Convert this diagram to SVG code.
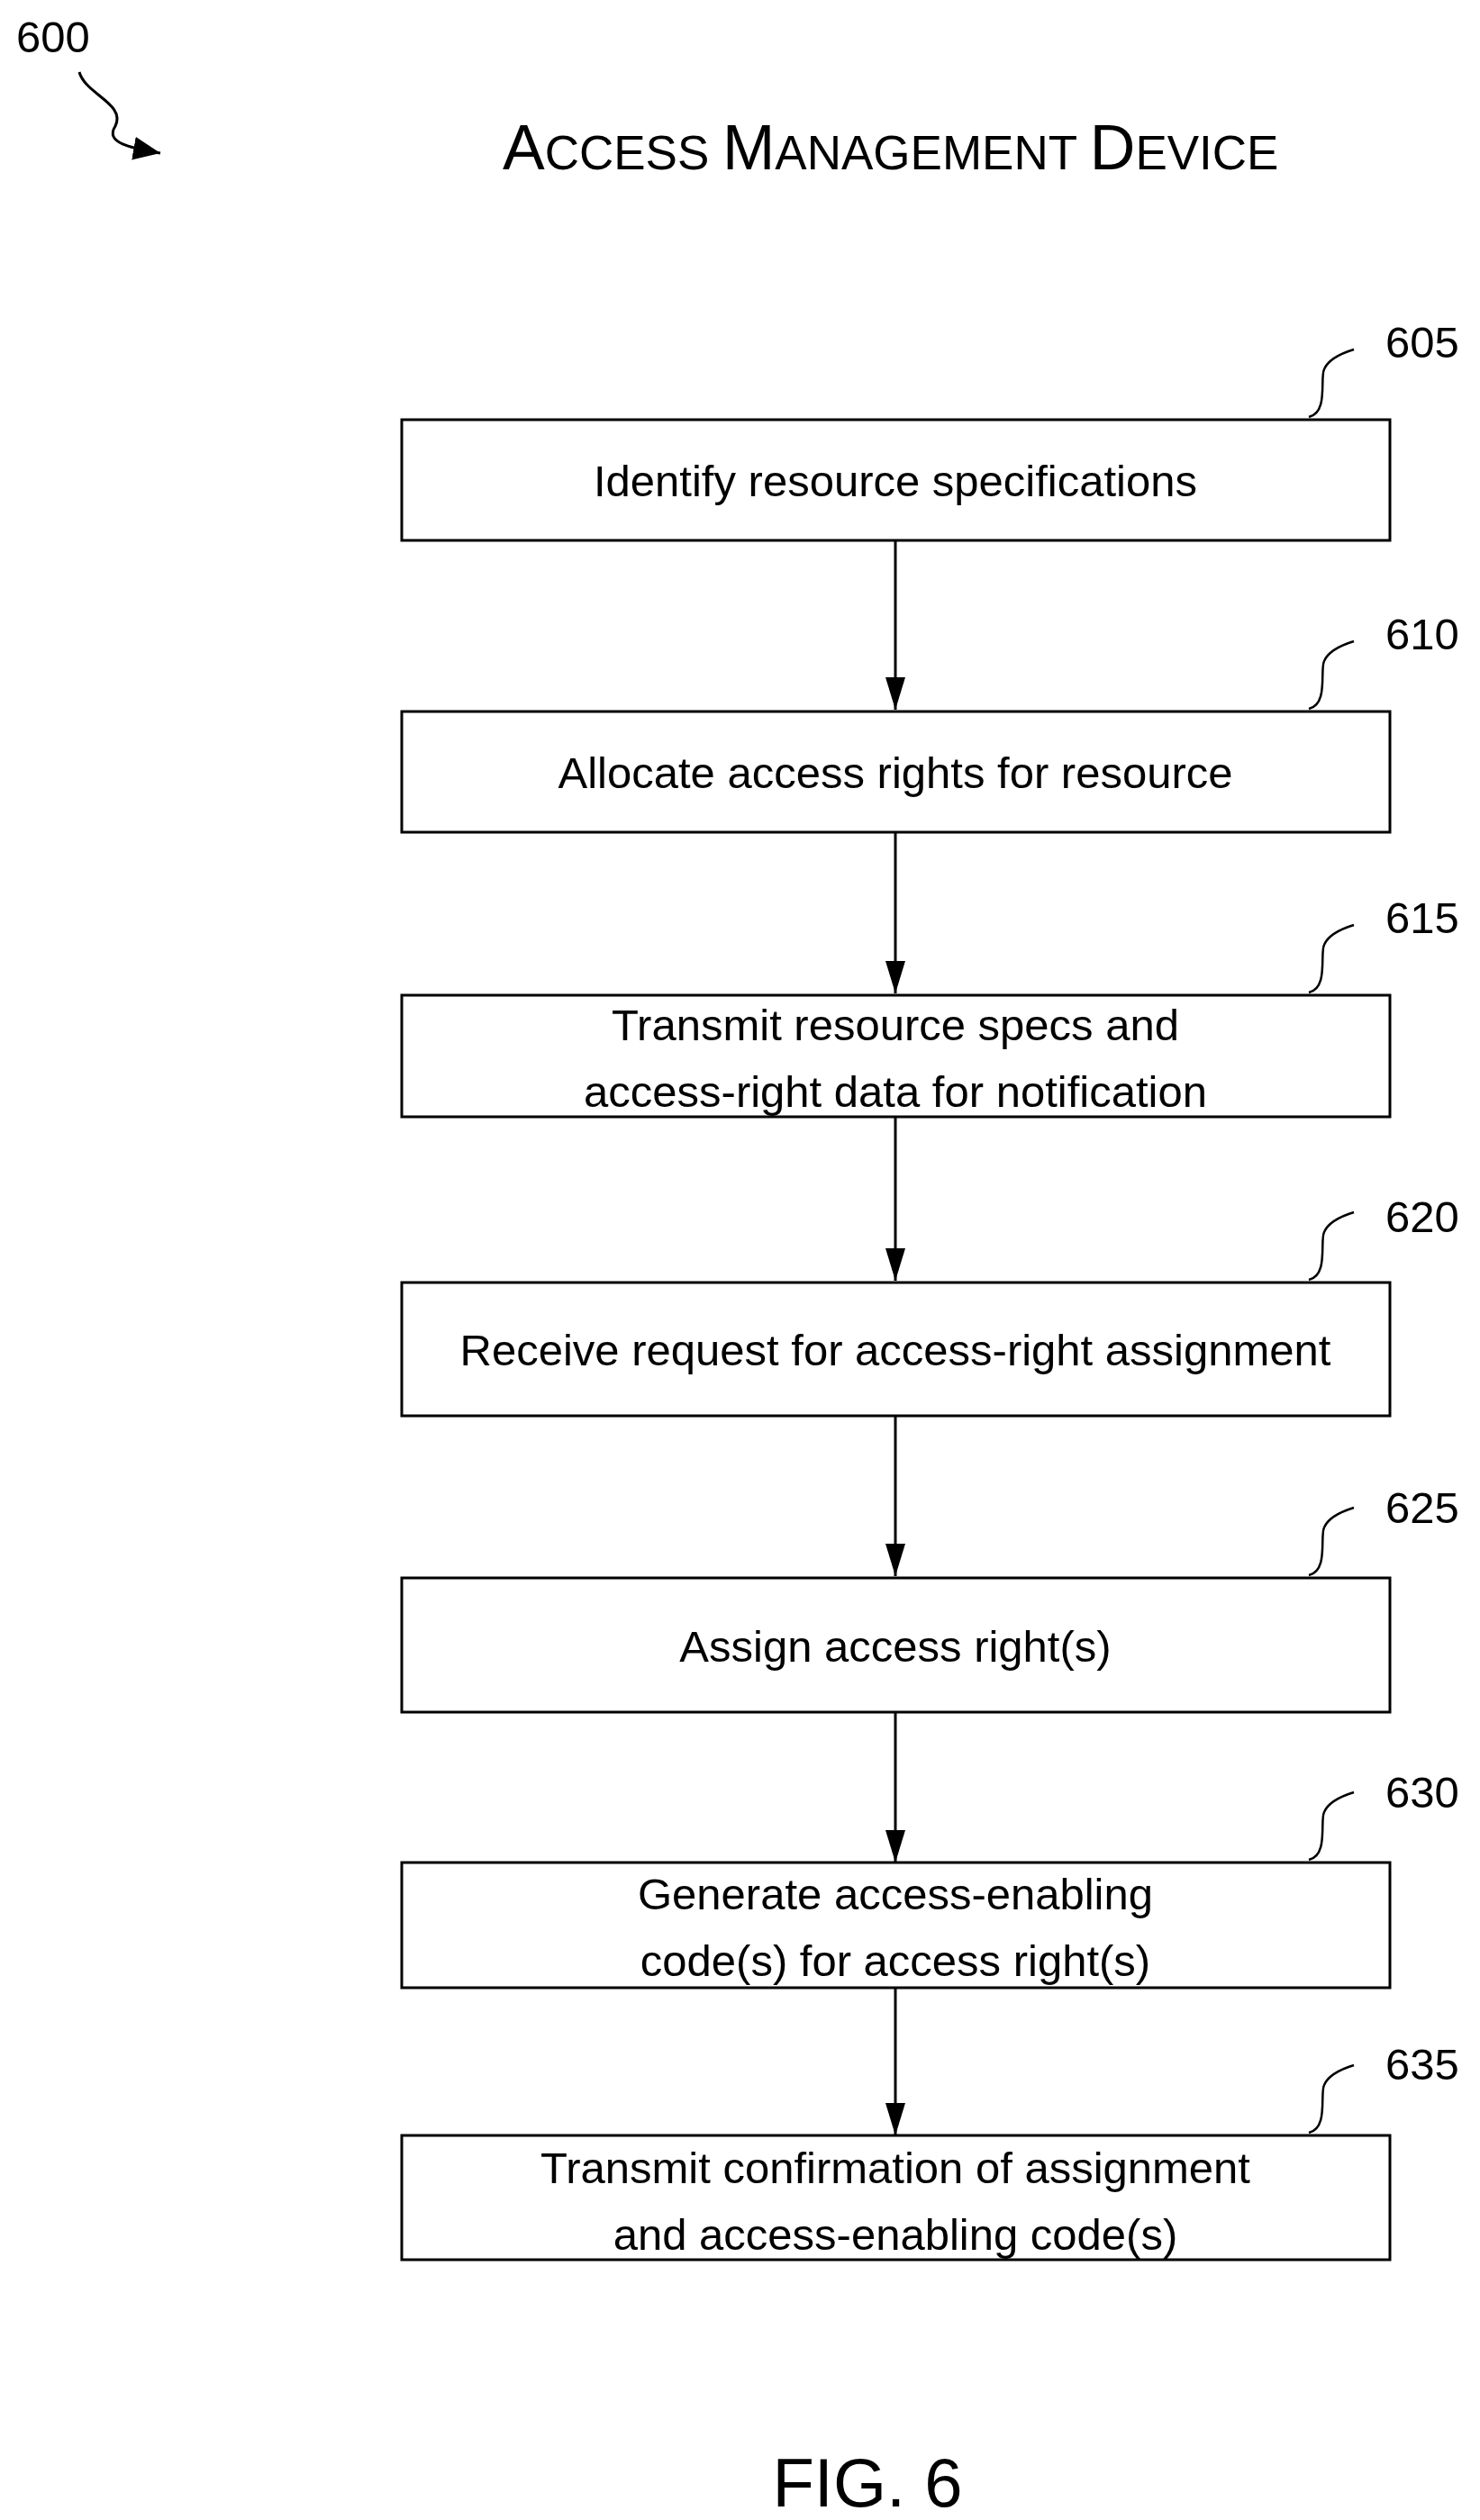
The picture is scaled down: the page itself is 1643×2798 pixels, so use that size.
<svg xmlns="http://www.w3.org/2000/svg" width="1643" height="2798" viewBox="0 0 1643 2798">
<style>
text{font-family:"Liberation Sans",Arial,sans-serif;fill:#000}
.box{fill:#fff;stroke:#000;stroke-width:3}
.t{font-size:49px;text-anchor:middle}
.n{font-size:49px}
.ld{fill:none;stroke:#000;stroke-width:2.5}
.c{stroke:#000;stroke-width:3;fill:none}
</style>
<defs>
<marker id="a2" markerWidth="36" markerHeight="22" refX="36" refY="11" orient="auto" markerUnits="userSpaceOnUse" viewBox="0 0 36 22">
<path d="M0,0 L36,11 L0,22 Z" fill="#000"/>
</marker>
<marker id="a3" markerWidth="30" markerHeight="26" refX="30" refY="13" orient="auto" markerUnits="userSpaceOnUse" viewBox="0 0 30 26">
<path d="M0,0 L30,13 L0,26 Z" fill="#000"/>
</marker>
</defs>
<text x="18" y="58" class="n">600</text>
<path class="ld" d="M88,80 C95,105 140,115 128,140 C115,160 150,165 178,170" marker-end="url(#a3)" style="stroke-width:3"/>
<text x="558" y="188" style="font-size:70px">A<tspan style="font-size:53px">CCESS </tspan>M<tspan style="font-size:53px">ANAGEMENT </tspan>D<tspan style="font-size:53px">EVICE</tspan></text>
<g id="connectors">
<line class="c" x1="994" y1="600" x2="994" y2="788" marker-end="url(#a2)"/>
<line class="c" x1="994" y1="924" x2="994" y2="1103" marker-end="url(#a2)"/>
<line class="c" x1="994" y1="1240" x2="994" y2="1422" marker-end="url(#a2)"/>
<line class="c" x1="994" y1="1572" x2="994" y2="1750" marker-end="url(#a2)"/>
<line class="c" x1="994" y1="1901" x2="994" y2="2068" marker-end="url(#a2)"/>
<line class="c" x1="994" y1="2207" x2="994" y2="2371" marker-end="url(#a2)"/>
</g>
<g id="n605"><rect class="box" x="446" y="466" width="1097" height="134"/><text class="t" x="994" y="551">Identify resource specifications</text><path class="ld" d="M1453,463 C1475,458 1465,420 1470,410 C1475,398 1490,392 1503,388"/><text class="n" x="1538" y="397">605</text></g>
<g id="n610"><rect class="box" x="446" y="790" width="1097" height="134"/><text class="t" x="994" y="875">Allocate access rights for resource</text><path class="ld" d="M1453,787 C1475,782 1465,744 1470,734 C1475,722 1490,716 1503,712"/><text class="n" x="1538" y="721">610</text></g>
<g id="n615"><rect class="box" x="446" y="1105" width="1097" height="135"/><text class="t" x="994" y="1155">Transmit resource specs and</text><text class="t" x="994" y="1229">access-right data for notification</text><path class="ld" d="M1453,1102 C1475,1097 1465,1059 1470,1049 C1475,1037 1490,1031 1503,1027"/><text class="n" x="1538" y="1036">615</text></g>
<g id="n620"><rect class="box" x="446" y="1424" width="1097" height="148"/><text class="t" x="994" y="1516">Receive request for access-right assignment</text><path class="ld" d="M1453,1421 C1475,1416 1465,1378 1470,1368 C1475,1356 1490,1350 1503,1346"/><text class="n" x="1538" y="1368">620</text></g>
<g id="n625"><rect class="box" x="446" y="1752" width="1097" height="149"/><text class="t" x="994" y="1845">Assign access right(s)</text><path class="ld" d="M1453,1749 C1475,1744 1465,1706 1470,1696 C1475,1684 1490,1678 1503,1674"/><text class="n" x="1538" y="1691">625</text></g>
<g id="n630"><rect class="box" x="446" y="2068" width="1097" height="139"/><text class="t" x="994" y="2120">Generate access-enabling</text><text class="t" x="994" y="2194">code(s) for access right(s)</text><path class="ld" d="M1453,2065 C1475,2060 1465,2022 1470,2012 C1475,2000 1490,1994 1503,1990"/><text class="n" x="1538" y="2007">630</text></g>
<g id="n635"><rect class="box" x="446" y="2371" width="1097" height="138"/><text class="t" x="994" y="2424">Transmit confirmation of assignment</text><text class="t" x="994" y="2498">and access-enabling code(s)</text><path class="ld" d="M1453,2368 C1475,2363 1465,2325 1470,2315 C1475,2303 1490,2297 1503,2293"/><text class="n" x="1538" y="2309">635</text></g>
<text x="963" y="2783" style="font-size:76px;text-anchor:middle">FIG. 6</text>
</svg>
